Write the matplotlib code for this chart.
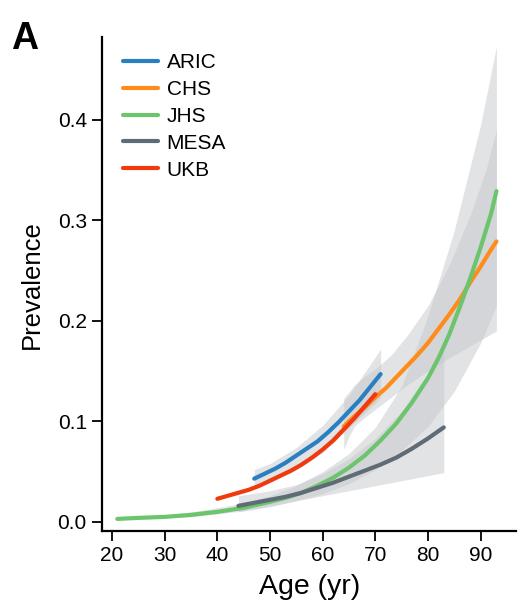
import numpy as np
import matplotlib
matplotlib.use("Agg")
import matplotlib.pyplot as plt

plt.rcParams['font.family'] = ['Liberation Sans', 'DejaVu Sans']

# prevalence curves (age in years)
aric_age = [47, 49, 51, 53, 55, 57, 59, 61, 63, 65, 67, 69, 71]
aric_val = [0.043, 0.048, 0.053, 0.059, 0.066, 0.073, 0.080, 0.089, 0.099,
            0.110, 0.121, 0.134, 0.147]
chs_age = [64, 66, 68, 70, 72, 74, 76, 78, 80, 82, 84, 86, 88, 90, 92, 93]
chs_val = [0.095, 0.105, 0.114, 0.124, 0.133, 0.144, 0.155, 0.166, 0.178,
           0.192, 0.206, 0.221, 0.238, 0.254, 0.271, 0.279]
jhs_age = [21, 25, 30, 35, 40, 45, 50, 53, 56, 59, 62, 65, 68, 71, 74, 77,
           80, 82, 84, 86, 88, 90, 92, 93]
jhs_val = [0.003, 0.004, 0.005, 0.007, 0.010, 0.014, 0.020, 0.024, 0.029,
           0.036, 0.044, 0.054, 0.066, 0.081, 0.098, 0.119, 0.143, 0.163,
           0.186, 0.213, 0.242, 0.273, 0.307, 0.329]
mesa_age = [44, 47, 50, 53, 56, 59, 62, 65, 68, 71, 74, 77, 80, 83]
mesa_val = [0.016, 0.019, 0.022, 0.025, 0.029, 0.034, 0.039, 0.045, 0.051,
            0.057, 0.064, 0.073, 0.083, 0.094]
ukb_age = [40, 42, 44, 46, 48, 50, 52, 54, 56, 58, 60, 62, 64, 66, 68, 70]
ukb_val = [0.023, 0.026, 0.029, 0.032, 0.036, 0.041, 0.046, 0.051, 0.057,
           0.064, 0.072, 0.081, 0.092, 0.103, 0.115, 0.127]

# confidence bands (coarser reading)
aric_band_age = [47, 50, 55, 60, 65, 70, 71]
aric_lo = [0.036, 0.043, 0.056, 0.072, 0.094, 0.118, 0.124]
aric_hi = [0.052, 0.058, 0.074, 0.096, 0.126, 0.164, 0.172]
chs_band_age = [64, 65, 66, 68, 70, 73, 76, 80, 84, 88, 91, 93]
chs_lo = [0.072, 0.085, 0.095, 0.104, 0.112, 0.124, 0.136, 0.150, 0.163,
          0.175, 0.184, 0.190]
chs_hi = [0.123, 0.129, 0.136, 0.145, 0.152, 0.166, 0.185, 0.215, 0.255,
          0.305, 0.350, 0.390]
jhs_band_age = [21, 25, 30, 35, 40, 45, 50, 55, 60, 65, 70, 75, 80, 85, 90, 93]
jhs_lo = [0.002, 0.003, 0.004, 0.005, 0.008, 0.011, 0.015, 0.021, 0.028,
          0.038, 0.052, 0.071, 0.095, 0.130, 0.178, 0.215]
jhs_hi = [0.004, 0.005, 0.007, 0.010, 0.014, 0.019, 0.026, 0.036, 0.050,
          0.068, 0.094, 0.135, 0.205, 0.290, 0.395, 0.473]
mesa_band_age = [44, 50, 55, 60, 65, 70, 75, 80, 83]
mesa_lo = [0.010, 0.016, 0.021, 0.026, 0.031, 0.036, 0.041, 0.046, 0.049]
mesa_hi = [0.026, 0.031, 0.037, 0.048, 0.063, 0.083, 0.110, 0.148, 0.175]
ukb_band_age = [40, 45, 50, 55, 60, 65, 70]
ukb_lo = [0.022, 0.029, 0.039, 0.052, 0.069, 0.094, 0.121]
ukb_hi = [0.024, 0.031, 0.043, 0.056, 0.075, 0.102, 0.133]

cohorts = ["ARIC", "CHS", "JHS", "MESA", "UKB"]
colors = ["#2a7fc1", "#ff8c1a", "#6cc46c", "#5f6b75", "#f03a0e"]
ages = [aric_age, chs_age, jhs_age, mesa_age, ukb_age]
vals = [aric_val, chs_val, jhs_val, mesa_val, ukb_val]
band_ages = [aric_band_age, chs_band_age, jhs_band_age, mesa_band_age, ukb_band_age]
los = [aric_lo, chs_lo, jhs_lo, mesa_lo, ukb_lo]
his = [aric_hi, chs_hi, jhs_hi, mesa_hi, ukb_hi]

fig = plt.figure(figsize=(5.18, 6.11), dpi=100)
ax = fig.add_axes([0.197, 0.131, 0.800, 0.808])

# confidence bands first, then the lines on top
for a, lo, hi in zip(band_ages, los, his):
    ax.fill_between(a, lo, hi, color="#c6c8cc", alpha=0.5, linewidth=0)

for name, c, a, v in zip(cohorts, colors, ages, vals):
    ax.plot(a, v, color=c, lw=3.0, label=name, solid_capstyle="round")

ax.set_xlim(18.1, 96.8)
ax.set_ylim(-0.009, 0.482)
ax.set_xticks(np.arange(20, 100, 10))
ax.set_yticks([0.0, 0.1, 0.2, 0.3, 0.4])
ax.set_yticklabels(["0.0", "0.1", "0.2", "0.3", "0.4"])

for s in ["top", "right"]:
    ax.spines[s].set_visible(False)
for s in ["left", "bottom"]:
    ax.spines[s].set_linewidth(1.6)
ax.tick_params(axis="both", labelsize=15, width=1.3, length=7, pad=4)

ax.set_xlabel("Age (yr)", fontsize=20.5, labelpad=6)
ax.set_ylabel("Prevalence", fontsize=18.5, labelpad=10)

leg = ax.legend(loc="upper left", bbox_to_anchor=(0.03, 0.985), frameon=False,
                fontsize=15, handlelength=1.7, handletextpad=0.4,
                labelspacing=0.38, borderaxespad=0)

fig.text(0.022, 0.965, "A", fontsize=27, fontweight="bold", va="top")

fig.savefig("out.png", dpi=100)
